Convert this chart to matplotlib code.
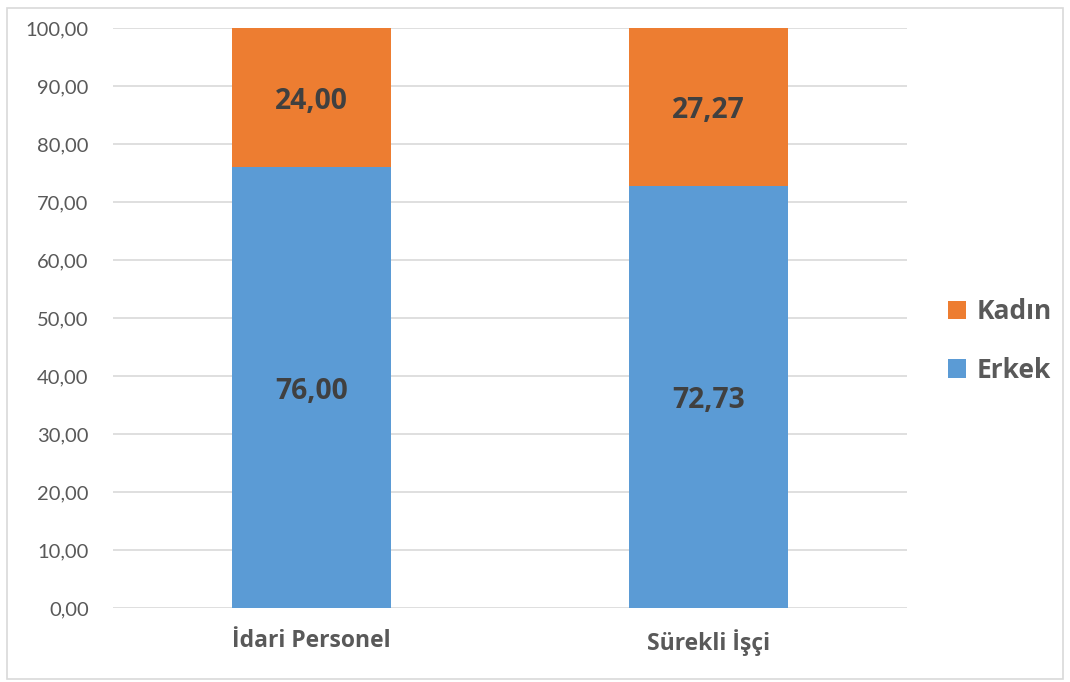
import matplotlib
matplotlib.use("Agg")
import matplotlib.pyplot as plt
from matplotlib.patches import Patch, Rectangle

categories = ["İdari Personel", "Sürekli İşçi"]
erkek = [76.00, 72.73]
kadin = [24.00, 27.27]
yticks = [0, 10, 20, 30, 40, 50, 60, 70, 80, 90, 100]

plt.rcParams['font.family'] = ['Lato', 'DejaVu Sans']
BOLD = ['Open Sans', 'DejaVu Sans']

W, H = 1070, 682
fig = plt.figure(figsize=(W / 100, H / 100), dpi=100)
fig.patch.set_facecolor("white")
fig.patches.append(Rectangle((7 / W, 1 - 679 / H), (1063 - 7) / W, (679 - 8) / H,
                             transform=fig.transFigure, fill=False,
                             edgecolor="#D9D9D9", linewidth=1.2))

ax = fig.add_axes([113 / W, 1 - 608 / H, (907 - 113) / W, (608 - 28) / H])
blue = "#5B9BD5"
orange = "#ED7D31"
x = list(range(len(categories)))
bw = 0.4
ax.bar(x, erkek, width=bw, color=blue, zorder=3)
ax.bar(x, kadin, width=bw, bottom=erkek, color=orange, zorder=3)

def fmt(v):
    return f"{v:.2f}".replace(".", ",")

for i in x:
    for yc, v in ((erkek[i] / 2, erkek[i]), (erkek[i] + kadin[i] / 2, kadin[i])):
        ax.annotate(fmt(v), (i, yc), xytext=(0, -2.5), textcoords="offset points",
                    ha="center", va="center", fontsize=20.3, fontweight="bold",
                    family=BOLD, color="#404040", zorder=4)

ax.set_xlim(-0.5, len(categories) - 0.5)
ax.set_ylim(0, 100)
ax.set_yticks(yticks)
ax.set_yticklabels([fmt(v) for v in yticks], fontsize=14.5, color="#595959")
ax.set_xticks(x)
ax.set_xticklabels(categories, fontsize=16.5, fontweight="bold", family=BOLD, color="#595959")
ax.tick_params(axis="both", length=0)
ax.tick_params(axis="y", pad=17.5)
ax.tick_params(axis="x", pad=15)
ax.grid(axis="y", color="#D9D9D9", linewidth=1.2, zorder=0)
for s in ax.spines.values():
    s.set_visible(False)

handles = [Patch(facecolor=orange, label="Kadın"), Patch(facecolor=blue, label="Erkek")]
leg = fig.legend(handles=handles, loc="center left",
                 bbox_to_anchor=(924 / W, 1 - 341 / H), frameon=False,
                 prop={"size": 19, "weight": "bold", "family": BOLD}, labelcolor="#595959",
                 handlelength=0.7, handleheight=0.7, handletextpad=0.4,
                 labelspacing=1.2)

fig.savefig("out.png", dpi=100)
